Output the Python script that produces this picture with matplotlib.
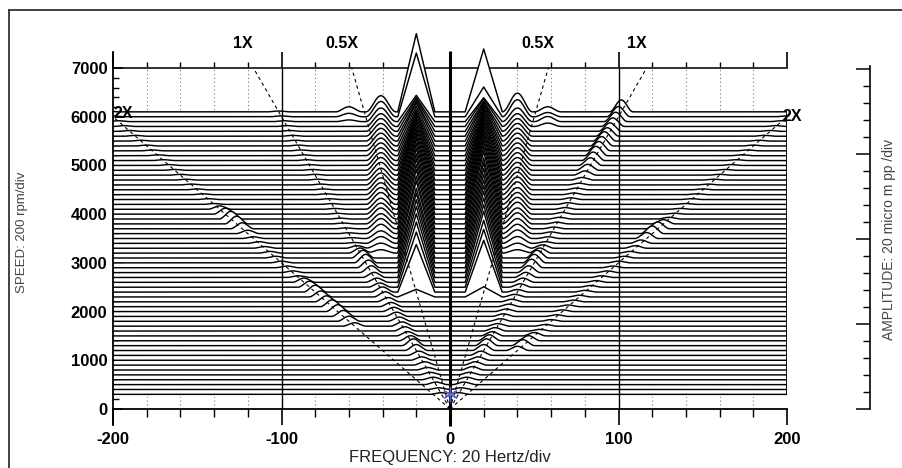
import numpy as np
import matplotlib
matplotlib.use('Agg')
import matplotlib.pyplot as plt
from matplotlib.lines import Line2D
from matplotlib.ticker import MultipleLocator, FixedLocator

plt.rcParams['font.family'] = ['Liberation Sans', 'DejaVu Sans']

# speed of every cascade trace (rpm)
rpm = np.arange(300, 6200, 100)          # 59 traces, 300 ... 6100

# peak amplitudes in micro m pp, one value per trace
# fixed-frequency subsynchronous peak at -20 Hz / +20 Hz (starts at 2300 rpm)
sub_bwd = [0] * 20 + [9, 56, 65, 71, 75, 78, 80, 82, 82, 85,
                      85, 87, 87, 88, 88, 89, 89, 89, 88, 87,
                      86, 85, 82, 78, 73, 68, 64, 59, 55, 52,
                      49, 47, 45, 41, 38, 34, 31, 75, 92]
sub_fwd = [0] * 20 + [12, 61, 68, 73, 78, 80, 82, 84, 85, 86,
                      87, 88, 89, 89, 91, 91, 91, 89, 88, 87,
                      85, 82, 80, 76, 73, 68, 65, 61, 58, 54,
                      51, 47, 44, 40, 36, 33, 28, 35, 74]
# its harmonic near -41 Hz / +40 Hz (from 3200 rpm)
harm_bwd = [0] * 29 + [4, 6, 8, 9, 11, 12, 12, 13, 13, 13,
                       14, 14, 14, 14, 14, 14, 15, 15, 15, 15,
                       15, 15, 15, 15, 15, 15, 15, 16, 18, 19]
harm_fwd = [0] * 29 + [4, 6, 8, 10, 11, 12, 13, 13, 14, 14,
                       14, 14, 15, 15, 15, 15, 15, 15, 15, 15,
                       15, 15, 15, 15, 15, 15, 15, 16, 20, 22]
# small peak near -60 Hz / +58 Hz on the top traces
third_bwd = [0] * 56 + [2, 4, 6]
third_fwd = [0] * 55 + [4, 6, 5, 6]
# synchronous 1X (forward / backward)
x1_fwd = [2, 2, 3, 3, 3, 4, 4, 4,
          5, 7, 8, 7, 5, 4, 3, 3, 3, 3,
          3, 3, 3, 3, 4, 5, 6, 8, 10, 10,
          9, 6, 4, 2, 2, 2, 2, 2, 2, 2,
          2, 2, 2, 2, 2, 2, 3, 5, 7, 9,
          10, 11, 11, 11, 11, 10, 10, 10, 11, 12,
          14]
x1_bwd = [2, 2, 3, 3, 3, 3, 4, 4,
          5, 7, 8, 6, 5, 5, 5, 5, 5, 5,
          5, 5, 6, 6, 5, 5, 6, 8, 9, 10,
          9, 6, 3, 1, 1, 1, 1, 1, 1, 1,
          1, 1, 1, 1, 1, 1, 1, 1, 1, 1,
          1, 1, 1, 1, 1, 1, 1, 1, 1, 1,
          1]
# 2X (forward / backward)
x2_fwd = [0] * 9 + [5, 7, 6, 4, 2, 2, 2, 2, 2,
                    2, 2, 2, 2, 2, 2, 2, 2, 2, 2,
                    2, 2, 3, 4, 7, 9, 8, 5, 2, 1,
                    1, 1, 1, 1, 1, 1, 1, 1, 1, 1,
                    1, 1, 1, 1, 1, 1, 1, 1, 1, 1,
                    1]
x2_bwd = [0] * 14 + [4, 6, 7, 8, 8, 7, 7, 8, 7, 5,
                     2, 2, 2, 2, 2, 2, 2, 2, 2, 4,
                     7, 9, 9, 7, 4, 1, 1, 1, 1, 1,
                     1, 1, 1, 1, 1, 1, 1, 1, 1, 1,
                     1, 1, 1, 1, 1]

# order lines and their labels
orders = [1.0, 0.5, 2.0]
order_names = ['1X', '0.5X', '2X']

freq_ticks = [-200, -100, 0, 100, 200]
speed_ticks = list(range(0, 8000, 1000))

# display scale: 20 micro m pp per amplitude division of 17 px
RPM_PER_UM = 17.45
freq = np.arange(-200, 200.25, 0.5)


def peak(f0, width):
    # sharp spectral line (triangle)
    d = np.abs(freq - f0) / width
    return np.clip(1 - d, 0, None)


def hump(f0, width):
    # small rounded bump
    d = np.clip(np.abs(freq - f0) / width, 0, 1)
    return 0.5 * (1 + np.cos(np.pi * d)) * (d < 1)


fig = plt.figure(figsize=(9.02, 4.68), dpi=100)
ax = fig.add_axes([0.12528, 0.06368, 0.74723, 0.88462])
ax.set_xlim(-200, 200)
ax.set_ylim(-600, 7900)

# dotted frequency grid, hidden behind the traces
ax.vlines(np.arange(-180, 200, 20), 0, 7000, colors='#777777',
          linestyles=(0, (1, 2.5)), lw=0.8, zorder=1)

# cascade, back (high speed) to front (low speed)
n = len(rpm)
for i in range(n - 1, -1, -1):
    r = rpm[i]
    spec = (sub_bwd[i] * peak(-20, 11) + sub_fwd[i] * peak(20, 11)
            + harm_bwd[i] * hump(-41, 9) + harm_fwd[i] * hump(40, 9)
            + third_bwd[i] * hump(-60, 8) + third_fwd[i] * hump(58, 8)
            + x1_fwd[i] * hump(r / 60, 7) + x1_bwd[i] * hump(-r / 60, 7)
            + x2_fwd[i] * hump(r / 30, 7) + x2_bwd[i] * hump(-r / 30, 7))
    y = r + spec * RPM_PER_UM
    lower = r - (rpm[i] - rpm[i - 1]) if i > 0 else r
    z = 3 + (n - i) * 0.01
    ax.fill_between(freq, lower, y, color='white', lw=0, zorder=z)
    ax.plot(freq, y, color='black', lw=1.05, zorder=z + 0.005)

# frame of the cascade
ax.vlines(200, rpm[0], rpm[-1], colors='black', lw=1.3, zorder=10)
ax.vlines([-100, 100], 0, 7000, colors='black', lw=1.0, zorder=10)
ax.vlines(0, -350, 7350, colors='black', lw=2.2, zorder=11)

# order lines
for k, name in zip(orders, order_names):
    top = min(7000, 200 * 60 / k)
    for s in (-1, 1):
        ax.plot([0, s * top * k / 60], [0, top], color='black', lw=0.8,
                ls=(0, (3, 3)), zorder=12)
        if name == '2X':
            ax.text(s * 200 - (0 if s < 0 else 2.5), top + (60 if s < 0 else 0),
                    name, ha='left', va='center', fontsize=11.5,
                    fontweight='semibold', zorder=13)
        else:
            ax.text(s * 7000 * k / 60 - 6, 7500, name, ha='center',
                    va='center', fontsize=11.5, fontweight='semibold', zorder=13)

# blue cursor mark at the origin
ax.plot(0, rpm[0], marker=(6, 2, 0), color='#5a66c8', ms=11, mew=1.0, zorder=14)

# axes
for side in ('top', 'right'):
    ax.spines[side].set_visible(False)
ax.spines['bottom'].set_position(('data', 0))
ax.spines['bottom'].set_bounds(-200, 200)
ax.spines['left'].set_bounds(-330, 7330)
for side in ('bottom', 'left'):
    ax.spines[side].set_linewidth(1.3)
    ax.spines[side].set_zorder(12)

ax.set_xticks(freq_ticks)
ax.set_xticklabels([str(v) for v in freq_ticks])
ax.xaxis.set_minor_locator(MultipleLocator(20))
ax.tick_params(axis='x', which='major', direction='out', length=11.5,
               width=1.2, pad=5, labelsize=12)
ax.tick_params(axis='x', which='minor', direction='out', length=5.8, width=1.0)

ax.set_yticks(speed_ticks)
ax.set_yticklabels([str(v) for v in speed_ticks])
ax.yaxis.set_minor_locator(FixedLocator(np.arange(0, 7001, 200)))
ax.tick_params(axis='y', which='major', direction='in', length=7,
               width=1.1, pad=4, labelsize=12)
ax.tick_params(axis='y', which='minor', direction='in', length=4, width=1.0)
for lab in ax.get_xticklabels() + ax.get_yticklabels():
    lab.set_fontweight('bold')

# top frequency scale on the 7000 rpm line
top_ax = ax.secondary_xaxis((7000 + 600) / 8500)
top_ax.set_xticks(freq_ticks)
top_ax.xaxis.set_minor_locator(MultipleLocator(20))
top_ax.tick_params(axis='x', which='major', direction='out', length=11.5,
                   width=1.2, labelbottom=False, labeltop=False)
top_ax.tick_params(axis='x', which='minor', direction='out', length=4.3, width=1.0)
top_ax.spines['top'].set_linewidth(1.3)
top_ax.spines['top'].set_color('#222222')

ax.set_xlabel('FREQUENCY: 20 Hertz/div', fontsize=12, color='#222222')
ax.xaxis.set_label_coords(0.5, -0.0478)
ax.xaxis.label.set_va('center')
ax.set_ylabel('SPEED: 200 rpm/div', fontsize=9.5, color='#444444')
ax.yaxis.set_label_coords(-0.135, 0.498)
ax.yaxis.label.set_va('center')

# amplitude scale at the right
amp = ax.twinx()
amp.set_ylim(np.array(ax.get_ylim()) / RPM_PER_UM)
for side in ('top', 'bottom', 'left'):
    amp.spines[side].set_visible(False)
amp.spines['right'].set_position(('axes', (870 - 113) / 674))
amp.spines['right'].set_bounds(0, 403)
amp.spines['right'].set_linewidth(1.2)
amp.set_yticks(np.arange(0, 401, 100))
amp.yaxis.set_minor_locator(FixedLocator(np.arange(0, 401, 20)))
amp.tick_params(axis='y', which='major', direction='in', length=10, width=1.1,
                labelright=False)
amp.tick_params(axis='y', which='minor', direction='in', length=5, width=1.0)
amp.set_ylabel('AMPLITUDE: 20 micro m pp /div', fontsize=10, color='#444444')
amp.yaxis.set_label_coords((889 - 113) / 674, 0.481)
amp.yaxis.label.set_va('center')

# outer window frame
fig.add_artist(Line2D([9 / 902, 9 / 902], [0, 1 - 10 / 468], color='#333333', lw=1.3))
fig.add_artist(Line2D([9 / 902, 1], [1 - 10 / 468, 1 - 10 / 468], color='#333333', lw=1.3))

fig.savefig('out.png', dpi=100)
